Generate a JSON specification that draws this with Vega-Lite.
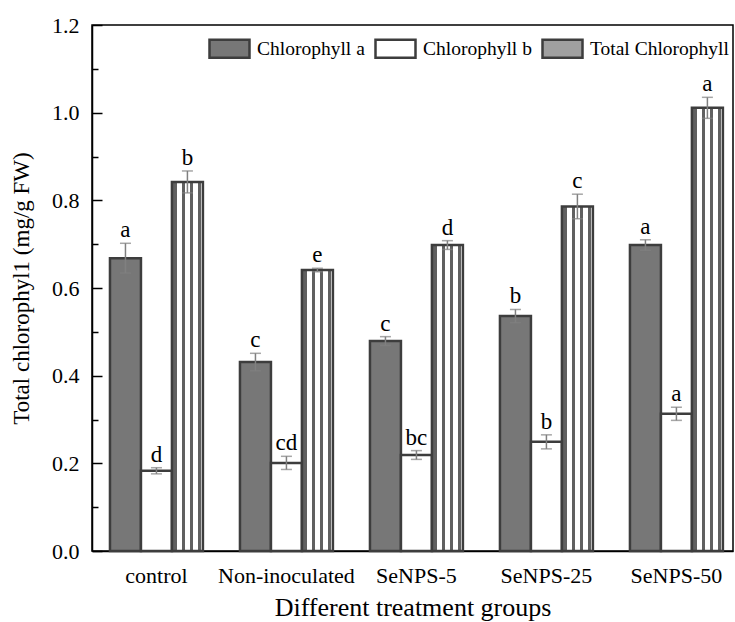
{
  "$schema": "https://vega.github.io/schema/vega-lite/v6.json",
  "autosize": "none",
  "width": 641,
  "height": 526,
  "padding": {"left": 92, "top": 25, "right": 2, "bottom": 71},
  "background": "white",
  "config": {
    "view": {"stroke": "black", "strokeWidth": 1.5},
    "font": "Liberation Serif"
  },
  "data": {
    "values": [
      {"group": "control", "series": "Chlorophyll a", "mean": 0.668, "lo": 0.634, "hi": 0.702, "letter": "a"},
      {"group": "control", "series": "Chlorophyll b", "mean": 0.183, "lo": 0.176, "hi": 0.190, "letter": "d"},
      {"group": "control", "series": "Total Chlorophyll", "mean": 0.842, "lo": 0.817, "hi": 0.867, "letter": "b"},
      {"group": "Non-inoculated", "series": "Chlorophyll a", "mean": 0.431, "lo": 0.411, "hi": 0.451, "letter": "c"},
      {"group": "Non-inoculated", "series": "Chlorophyll b", "mean": 0.201, "lo": 0.186, "hi": 0.216, "letter": "cd"},
      {"group": "Non-inoculated", "series": "Total Chlorophyll", "mean": 0.641, "lo": 0.637, "hi": 0.645, "letter": "e"},
      {"group": "SeNPS-5", "series": "Chlorophyll a", "mean": 0.479, "lo": 0.469, "hi": 0.489, "letter": "c"},
      {"group": "SeNPS-5", "series": "Chlorophyll b", "mean": 0.219, "lo": 0.209, "hi": 0.229, "letter": "bc"},
      {"group": "SeNPS-5", "series": "Total Chlorophyll", "mean": 0.698, "lo": 0.688, "hi": 0.708, "letter": "d"},
      {"group": "SeNPS-25", "series": "Chlorophyll a", "mean": 0.536, "lo": 0.521, "hi": 0.551, "letter": "b"},
      {"group": "SeNPS-25", "series": "Chlorophyll b", "mean": 0.249, "lo": 0.233, "hi": 0.265, "letter": "b"},
      {"group": "SeNPS-25", "series": "Total Chlorophyll", "mean": 0.786, "lo": 0.758, "hi": 0.814, "letter": "c"},
      {"group": "SeNPS-50", "series": "Chlorophyll a", "mean": 0.698, "lo": 0.686, "hi": 0.710, "letter": "a"},
      {"group": "SeNPS-50", "series": "Chlorophyll b", "mean": 0.313, "lo": 0.298, "hi": 0.328, "letter": "a"},
      {"group": "SeNPS-50", "series": "Total Chlorophyll", "mean": 1.011, "lo": 0.987, "hi": 1.035, "letter": "a"}
    ]
  },
  "encoding": {
    "x": {
      "field": "group",
      "type": "nominal",
      "sort": ["control", "Non-inoculated", "SeNPS-5", "SeNPS-25", "SeNPS-50"],
      "scale": {"paddingInner": 0.285, "paddingOuter": 0.108, "align": 0.64},
      "axis": {
        "title": "Different treatment groups",
        "titleFont": "Liberation Serif",
        "titleFontSize": 26,
        "titleFontWeight": "normal",
        "titleColor": "black",
        "titlePadding": 8,
        "labelFont": "Liberation Serif",
        "labelFontSize": 22,
        "labelColor": "black",
        "labelAngle": 0,
        "labelPadding": 24,
        "tickSize": -10,
        "tickWidth": 1.5,
        "tickColor": "black",
        "domainColor": "black",
        "domainWidth": 1.5
      }
    },
    "xOffset": {
      "field": "series",
      "type": "nominal",
      "sort": ["Chlorophyll a", "Chlorophyll b", "Total Chlorophyll"],
      "scale": {"paddingInner": 0, "paddingOuter": 0}
    }
  },
  "layer": [
    {
      "mark": {"type": "bar", "stroke": "#3d3d3d", "strokeWidth": 2.5},
      "encoding": {
        "y": {
          "field": "mean",
          "type": "quantitative",
          "scale": {"domain": [0, 1.2], "nice": false},
          "axis": {
            "title": "Total chlorophyl1 (mg/g FW)",
            "titleFont": "Liberation Serif",
            "titleFontSize": 23,
            "titleFontWeight": "normal",
            "titleColor": "black",
            "titlePadding": 18,
            "values": [0, 0.1, 0.2, 0.3, 0.4, 0.5, 0.6, 0.7, 0.8, 0.9, 1.0, 1.1, 1.2],
            "labelExpr": "round(datum.value*10)%2===0 ? format(datum.value,'.1f') : ''",
            "labelFont": "Liberation Serif",
            "labelFontSize": 22,
            "labelColor": "black",
            "labelPadding": 23,
            "tickSize": {"condition": {"test": "round(datum.value*10)%2===0", "value": -10}, "value": -6},
            "tickWidth": 1.5,
            "tickColor": "black",
            "domainColor": "black",
            "domainWidth": 1.5,
            "grid": false
          }
        },
        "fill": {
          "condition": {
            "test": "datum.series === 'Total Chlorophyll'",
            "value": {
              "gradient": "linear",
              "x1": 0, "y1": 0, "x2": 1, "y2": 0,
              "stops": [
                {"offset": 0, "color": "#ffffff"},
                {"offset": 0.05, "color": "#ffffff"},
                {"offset": 0.05, "color": "#606060"},
                {"offset": 0.16, "color": "#606060"},
                {"offset": 0.16, "color": "#ffffff"},
                {"offset": 0.31, "color": "#ffffff"},
                {"offset": 0.31, "color": "#606060"},
                {"offset": 0.42, "color": "#606060"},
                {"offset": 0.42, "color": "#ffffff"},
                {"offset": 0.57, "color": "#ffffff"},
                {"offset": 0.57, "color": "#606060"},
                {"offset": 0.68, "color": "#606060"},
                {"offset": 0.68, "color": "#ffffff"},
                {"offset": 0.83, "color": "#ffffff"},
                {"offset": 0.83, "color": "#606060"},
                {"offset": 0.94, "color": "#606060"},
                {"offset": 0.94, "color": "#ffffff"},
                {"offset": 1, "color": "#ffffff"}
              ]
            }
          },
          "field": "series",
          "type": "nominal",
          "sort": ["Chlorophyll a", "Chlorophyll b", "Total Chlorophyll"],
          "scale": {"range": ["#777777", "#ffffff", "#a0a0a0"]},
          "legend": {
            "title": null,
            "orient": "none",
            "legendX": 116,
            "legendY": 2,
            "direction": "horizontal",
            "padding": 0,
            "symbolType": "M-1,-0.45H1V0.45H-1Z",
            "symbolSize": 1600,
            "symbolStrokeColor": "#3d3d3d",
            "symbolStrokeWidth": 2.5,
            "labelFont": "Liberation Serif",
            "labelFontSize": 19.5,
            "labelColor": "black",
            "labelOffset": 6,
            "columnPadding": 5
          }
        }
      }
    },
    {
      "mark": {"type": "rule", "color": "#808080", "strokeWidth": 1.5},
      "encoding": {
        "y": {"field": "lo", "type": "quantitative"},
        "y2": {"field": "hi"}
      }
    },
    {
      "mark": {"type": "tick", "color": "#808080", "thickness": 1.5, "size": 11, "orient": "horizontal"},
      "encoding": {
        "y": {"field": "hi", "type": "quantitative"}
      }
    },
    {
      "mark": {"type": "tick", "color": "#808080", "thickness": 1.5, "size": 11, "orient": "horizontal"},
      "encoding": {
        "y": {"field": "lo", "type": "quantitative"}
      }
    },
    {
      "mark": {"type": "text", "font": "Liberation Serif", "fontSize": 23, "color": "black", "baseline": "alphabetic", "dy": -6},
      "encoding": {
        "y": {"field": "hi", "type": "quantitative"},
        "text": {"field": "letter"}
      }
    }
  ]
}
